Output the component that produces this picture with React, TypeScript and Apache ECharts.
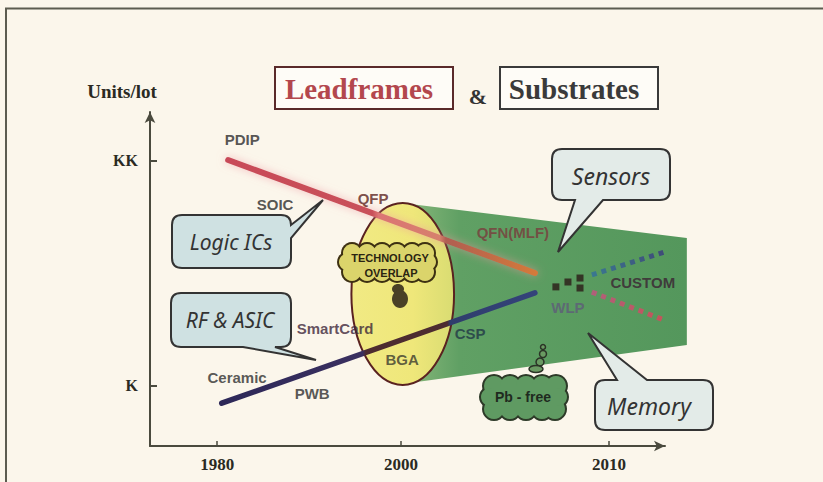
import React, { useEffect, useRef } from "react";
import * as echarts from "echarts";

// ---------- data ----------
// x: year (drawn on a piecewise scale: 2000–2010 is stretched as in the original sketch)
// y: log10(units per lot)  (K = 3, KK = 6)
const X_STRETCH = 2.26;
const pos = (year: number) => (year <= 2000 ? year : 2000 + (year - 2000) * X_STRETCH);
const unpos = (p: number) => (p <= 2000 ? p : 2000 + (p - 2000) / X_STRETCH);

const xTickYears = [1980, 2000, 2010];
const yTickValues = [3, 6];
const yTickLabels = ["K", "KK"];

const leadframeLine = [
  [1981.2, 6.01],
  [2006.44, 4.505],
];
const substrateLine = [
  [1980.5, 2.77],
  [2006.44, 4.24],
];
const customTrend = [
  [2009.18, 4.48],
  [2012.69, 4.785],
];
const memoryTrend = [
  [2009.18, 4.25],
  [2012.64, 3.88],
];
const wlpDots = [
  [2007.45, 4.32],
  [2008.03, 4.385],
  [2008.61, 4.438],
  [2008.61, 4.305],
];
const substrateBand = [
  [2000.05, 5.437],
  [2013.75, 4.971],
  [2013.75, 3.546],
  [2000.05, 3.026],
];
const overlapEllipseBox = [
  [1994.6, 5.437],
  [2002.55, 3.013],
];

const packageLabels = ["PDIP", "SOIC", "QFP", "QFN(MLF)", "CUSTOM", "WLP", "SmartCard", "BGA", "CSP", "Ceramic", "PWB"];
const packageLabelYears = [1982.72, 1986.3, 1996.96, 2005.38, 2011.63, 2008.03, 1992.83, 2000.05, 2003.32, 1982.17, 1990.33];
const packageLabelLevels = [6.277, 5.424, 5.504, 5.051, 4.372, 4.039, 3.772, 3.346, 3.705, 3.119, 2.906];

// ---------- styles ----------
const packageLabelColors = ["#2b2b2b", "#2b2b2b", "#5b2320", "#7a3b3c", "#3a2232", "#5e5b7a", "#3b2538", "#3a3a2e", "#213746", "#2e2e2e", "#2e2e2e"];

function calloutPath(x: number, y: number, w: number, h: number, r: number, side: string, a: number, b: number, tx: number, ty: number) {
  let d = `M${x + r},${y}`;
  if (side === "top") d += ` L${a},${y} L${tx},${ty} L${b},${y}`;
  d += ` L${x + w - r},${y} Q${x + w},${y} ${x + w},${y + r}`;
  if (side === "right") d += ` L${x + w},${a} L${tx},${ty} L${x + w},${b}`;
  d += ` L${x + w},${y + h - r} Q${x + w},${y + h} ${x + w - r},${y + h}`;
  if (side === "bottom") d += ` L${b},${y + h} L${tx},${ty} L${a},${y + h}`;
  d += ` L${x + r},${y + h} Q${x},${y + h} ${x},${y + h - r} L${x},${y + r} Q${x},${y} ${x + r},${y} Z`;
  return d;
}

const callouts = [
  { id: "coLogic", text: "Logic ICs", path: calloutPath(172, 215, 119, 53, 10, "right", 225, 238, 323, 200), tx: 231, ty: 242, size: 21, fill: "#cfe1e2" },
  { id: "coRF", text: "RF & ASIC", path: calloutPath(171, 293, 120, 54, 10, "bottom", 243, 275, 316, 360), tx: 230, ty: 320, size: 21, fill: "#cfe1e2" },
  { id: "coSensors", text: "Sensors", path: calloutPath(552, 149, 118, 51, 10, "bottom", 575, 603, 558, 252), tx: 611, ty: 176, size: 23, fill: "#e3ebe8" },
  { id: "coMemory", text: "Memory", path: calloutPath(595, 380, 118, 50, 10, "top", 617, 647, 588, 333), tx: 649, ty: 406, size: 23, fill: "#e3ebe8" },
];
callouts.forEach((c) => {
  echarts.graphic.registerShape(c.id, echarts.graphic.extendPath(c.path, {}));
});

function cloud(circles: number[][], core: number[], fill: string, stroke: string, lw: number) {
  const els: any[] = [];
  circles.forEach(([cx, cy, r]) =>
    els.push({ type: "circle", z: 60, shape: { cx, cy, r: r + lw }, style: { fill: stroke } })
  );
  circles.forEach(([cx, cy, r]) =>
    els.push({ type: "circle", z: 61, shape: { cx, cy, r }, style: { fill } })
  );
  els.push({ type: "rect", z: 61, shape: { x: core[0], y: core[1], width: core[2], height: core[3] }, style: { fill } });
  return els;
}

function txt(text: string, x: number, y: number, font: string, fill: string, z = 70) {
  return {
    type: "text",
    x,
    y,
    z,
    style: { text, font, fill, textAlign: "center", textVerticalAlign: "middle", align: "center", verticalAlign: "middle" },
  };
}

export default function App() {
  const ref = useRef<HTMLDivElement>(null);

  useEffect(() => {
    if (!ref.current) return;
    const chart = echarts.init(ref.current, null, { renderer: "svg" });

    const axisColor = "#4a4a3e";
    const tickFont = { fontFamily: "'Liberation Serif', serif", fontWeight: "bold" as const, fontSize: 17, color: "#2a2a22" };
    const sansLabel = "'Liberation Sans', Arial, sans-serif";
    const italicFont = (s: number) => `italic ${s}px 'Noto Sans', 'Open Sans', 'DejaVu Sans', sans-serif`;

    const graphics: any[] = [
      // frame
      { type: "line", z: 1, shape: { x1: 5, y1: 8.5, x2: 823, y2: 8.5 }, style: { stroke: "#5c5c50", lineWidth: 2 } },
      { type: "line", z: 1, shape: { x1: 6, y1: 8, x2: 6, y2: 482 }, style: { stroke: "#5c5c50", lineWidth: 2 } },
      // title boxes
      { type: "rect", z: 5, shape: { x: 275, y: 67, width: 178, height: 42 }, style: { fill: "#fefcf7", stroke: "#5a2a2a", lineWidth: 2 } },
      { type: "rect", z: 5, shape: { x: 500, y: 67, width: 158, height: 42 }, style: { fill: "#fefcf7", stroke: "#3a3a3a", lineWidth: 2 } },
      txt("Leadframes", 359, 89, "bold 29px 'Liberation Serif', serif", "#b3474d"),
      txt("&", 478, 96, "bold 22px 'Liberation Serif', serif", "#333333"),
      txt("Substrates", 574, 89, "bold 29px 'Liberation Serif', serif", "#3a3a3a"),
      txt("Units/lot", 122, 91, "bold 19px 'Liberation Serif', serif", "#2a2a22"),
    ];

    // callouts
    callouts.forEach((c) => {
      graphics.push({ type: c.id, z: 60, x: 0, y: 0, style: { fill: c.fill, stroke: "#333333", lineWidth: 2 } });
      graphics.push(txt(c.text, c.tx, c.ty, italicFont(c.size), "#333333", 61));
    });

    // technology overlap cloud
    graphics.push(
      ...cloud(
        [
          [352, 253, 9], [367, 253, 9], [382, 253, 9], [397, 253, 9], [412, 253, 9], [425, 253, 9],
          [352, 272, 9], [367, 272, 9], [382, 272, 9], [397, 272, 9], [412, 272, 9], [425, 272, 9],
          [347, 262, 8], [428, 262, 8],
        ],
        [350, 253, 78, 19],
        "#dbd46b",
        "#3d3012",
        2
      )
    );
    graphics.push({ type: "ellipse", z: 59, shape: { cx: 398, cy: 289, rx: 6, ry: 5 }, style: { fill: "#4a4126" } });
    graphics.push({ type: "ellipse", z: 59, shape: { cx: 400, cy: 299, rx: 8, ry: 9 }, style: { fill: "#4a4126" } });
    graphics.push(txt("TECHNOLOGY", 390, 258, "bold 11px 'Liberation Sans', sans-serif", "#2a2412", 70));
    graphics.push(txt("OVERLAP", 391, 273, "bold 11px 'Liberation Sans', sans-serif", "#2a2412", 70));

    // Pb-free cloud
    graphics.push(
      ...cloud(
        [
          [494, 386, 10], [510, 386, 10], [526, 386, 10], [542, 386, 10], [556, 386, 10],
          [494, 409, 10], [510, 409, 10], [526, 409, 10], [542, 409, 10], [555, 409, 10],
          [490, 397, 9], [558, 397, 9],
        ],
        [494, 386, 62, 23],
        "#5f9a62",
        "#2d3a28",
        2
      )
    );
    [
      [543, 347, 2.5],
      [543, 354, 3.5],
      [540, 362, 4],
    ].forEach(([cx, cy, r]) =>
      graphics.push({ type: "circle", z: 60, shape: { cx, cy, r }, style: { fill: "#6a9a62", stroke: "#2b3326", lineWidth: 1.5 } })
    );
    graphics.push({ type: "ellipse", z: 60, shape: { cx: 536, cy: 369, rx: 7, ry: 3.5 }, style: { fill: "#6a9a62", stroke: "#2b3326", lineWidth: 1.5 } });
    graphics.push(txt("Pb - free", 523, 397, "bold 14px 'Liberation Sans', sans-serif", "#1f2a1f", 70));

    const toXY = (arr: number[][]) => arr.map(([x, y]) => [pos(x), y]);

    const option: any = {
      backgroundColor: "#fbf6eb",
      animation: false,
      grid: { left: 150, right: 158, top: 112, bottom: 36, containLabel: false },
      xAxis: {
        type: "value",
        min: 1972.7,
        max: 2028.7,
        splitLine: { show: false },
        axisLine: { show: true, lineStyle: { color: axisColor, width: 2 }, symbol: ["none", "arrow"], symbolSize: [8, 11] },
        axisTick: { show: true, inside: true, length: 5, customValues: xTickYears.map(pos), lineStyle: { color: axisColor, width: 1.5 } },
        axisLabel: {
          show: true,
          margin: 10,
          customValues: xTickYears.map(pos),
          formatter: (v: number) => String(Math.round(unpos(v))),
          ...tickFont,
        },
      },
      yAxis: {
        type: "value",
        min: 2.2,
        max: 6.65,
        splitLine: { show: false },
        axisLine: { show: true, lineStyle: { color: axisColor, width: 2 }, symbol: ["none", "arrow"], symbolSize: [8, 11] },
        axisTick: { show: true, inside: true, length: 7, customValues: yTickValues, lineStyle: { color: axisColor, width: 2 } },
        axisLabel: {
          show: true,
          margin: 12,
          customValues: yTickValues,
          formatter: (v: number) => {
            let best = 0;
            yTickValues.forEach((t, i) => {
              if (Math.abs(t - v) < Math.abs(yTickValues[best] - v)) best = i;
            });
            return yTickLabels[best];
          },
          ...tickFont,
          fontSize: 16,
        },
      },
      series: [
        {
          type: "custom",
          z: 1,
          clip: false,
          silent: true,
          data: toXY(substrateBand),
          renderItem: (params: any, api: any) => {
            if (params.dataIndex !== 0) return null;
            const pts = toXY(substrateBand).map((p) => api.coord(p));
            return {
              type: "polygon",
              shape: { points: pts },
              style: {
                fill: {
                  type: "linear",
                  x: 0,
                  y: 0,
                  x2: 1,
                  y2: 0,
                  colorStops: [
                    { offset: 0, color: "#8cba7c" },
                    { offset: 0.2, color: "#60a064" },
                    { offset: 1, color: "#54975c" },
                  ],
                },
              },
            };
          },
        },
        {
          type: "custom",
          z: 2,
          clip: false,
          silent: true,
          data: toXY(overlapEllipseBox),
          renderItem: (params: any, api: any) => {
            if (params.dataIndex !== 0) return null;
            const [p1, p2] = toXY(overlapEllipseBox).map((p) => api.coord(p));
            return {
              type: "ellipse",
              shape: { cx: (p1[0] + p2[0]) / 2, cy: (p1[1] + p2[1]) / 2, rx: Math.abs(p2[0] - p1[0]) / 2, ry: Math.abs(p2[1] - p1[1]) / 2 },
              style: {
                fill: {
                  type: "linear",
                  x: 0,
                  y: 0,
                  x2: 1,
                  y2: 0,
                  colorStops: [
                    { offset: 0, color: "#f1ea84" },
                    { offset: 0.6, color: "#efe77a" },
                    { offset: 1, color: "#d9dc72" },
                  ],
                },
                stroke: "#5a2220",
                lineWidth: 2,
              },
            };
          },
        },
        {
          type: "line",
          z: 3,
          symbol: "none",
          silent: true,
          data: toXY(substrateLine),
          lineStyle: {
            width: 5.5,
            cap: "round",
            color: new echarts.graphic.LinearGradient(0, 0, 1, 0, [
              { offset: 0, color: "#2d2858" },
              { offset: 0.45, color: "#3a3060" },
              { offset: 0.46, color: "#4d2c30" },
              { offset: 0.72, color: "#4d2c30" },
              { offset: 0.73, color: "#2f3d6c" },
              { offset: 1, color: "#34437a" },
            ]),
          },
        },
        {
          type: "line",
          z: 3,
          symbol: "none",
          silent: true,
          data: toXY(leadframeLine),
          lineStyle: {
            width: 6,
            cap: "round",
            shadowColor: "rgba(238,150,160,0.6)",
            shadowBlur: 8,
            color: new echarts.graphic.LinearGradient(0, 0, 1, 0, [
              { offset: 0, color: "#c84a58" },
              { offset: 0.47, color: "#c9505a" },
              { offset: 0.49, color: "#dc7474" },
              { offset: 0.69, color: "#d6806c" },
              { offset: 0.71, color: "#b05e52" },
              { offset: 1, color: "#d47a3a" },
            ]),
          },
        },
        {
          type: "line",
          z: 3,
          symbol: "none",
          silent: true,
          data: toXY(customTrend),
          lineStyle: {
            width: 5,
            type: [5, 5],
            color: new echarts.graphic.LinearGradient(0, 0, 1, 0, [
              { offset: 0, color: "#3a7890" },
              { offset: 1, color: "#3f4a78" },
            ]),
          },
        },
        {
          type: "line",
          z: 3,
          symbol: "none",
          silent: true,
          data: toXY(memoryTrend),
          lineStyle: {
            width: 5,
            type: [5, 5],
            color: new echarts.graphic.LinearGradient(0, 0, 1, 0, [
              { offset: 0, color: "#b0607a" },
              { offset: 1, color: "#c4545a" },
            ]),
          },
        },
        {
          type: "scatter",
          z: 4,
          silent: true,
          symbol: "rect",
          symbolSize: 7,
          itemStyle: { color: "#2a1a16" },
          data: toXY(wlpDots),
        },
        {
          type: "scatter",
          z: 10,
          silent: true,
          symbolSize: 0,
          data: packageLabels.map((name, i) => ({
            name,
            value: [pos(packageLabelYears[i]), packageLabelLevels[i]],
            label: { color: packageLabelColors[i] },
          })),
          label: {
            show: true,
            position: "inside",
            formatter: "{b}",
            fontFamily: sansLabel,
            fontWeight: "bold",
            fontSize: 15,
          },
        },
      ],
      graphic: { elements: graphics },
    };

    chart.setOption(option);
    return () => chart.dispose();
  }, []);

  return <div ref={ref} style={{ position: "fixed", left: 0, top: 0, width: 823, height: 482 }} />;
}
